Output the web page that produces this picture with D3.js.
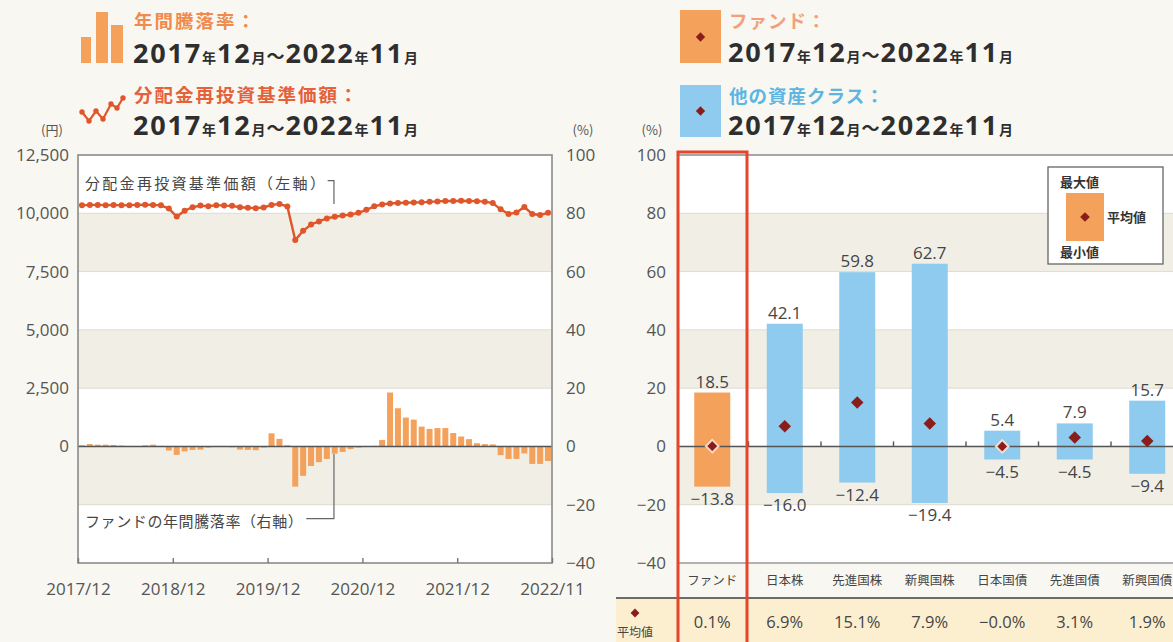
<!DOCTYPE html>
<html>
<head>
<meta charset="utf-8">
<script src="https://cdn.jsdelivr.net/npm/d3@7"></script>
<style>
  body { margin: 0; background: #f8f7f1; }
  svg { display: block; font-family: "Noto Sans CJK JP", "Noto Sans", sans-serif; }
</style>
</head>
<body>
<svg id="chart" width="1173" height="642"></svg>
<script>
// ---- data ----
const timeTicks = ['2017/12', '2018/12', '2019/12', '2020/12', '2021/12', '2022/11'];
const timeTickIndex = [0, 12, 24, 36, 48, 60];

// 分配金再投資基準価額 (円), 2017/12 - 2022/11 monthly
const navValues = [
  10340, 10360, 10360, 10350, 10360, 10340, 10350, 10360, 10370, 10360, 10340, 10200,
  9860, 10110, 10260, 10330, 10300, 10350, 10330, 10320, 10260, 10240, 10220, 10250,
  10360, 10400, 10290, 8850, 9250, 9520, 9650, 9780, 9850, 9900, 9950, 10020,
  10150, 10300, 10380, 10420, 10440, 10450, 10460, 10470, 10490, 10510, 10530, 10530,
  10540, 10530, 10520, 10500, 10440, 10170, 9970, 10030, 10270, 9970, 9930, 10020
];

// ファンドの年間騰落率 (%)
const returnValues = [
  0.4, 0.8, 0.6, 0.6, 0.5, 0.3, 0.1, -0.1, 0.4, 0.6, 0.2, -1.4,
  -2.9, -1.7, -1.2, -1.1, -0.4, -0.2, 0.1, -0.3, -1.1, -1.2, -1.3, -0.4,
  4.5, 2.6, 0.4, -13.8, -10.1, -6.7, -5.4, -4.3, -2.5, -1.9, -0.9, -0.4,
  -0.2, 0.2, 2.2, 18.5, 13.1, 9.9, 9.2, 6.8, 6.0, 6.3, 6.3, 4.6,
  3.4, 2.5, 1.1, 0.8, 0.7, -3.0, -4.3, -4.3, -2.4, -6.0, -6.0, -5.0
];

const yenTicks = [12500, 10000, 7500, 5000, 2500, 0];
const pctTicks = [100, 80, 60, 40, 20, 0, -20, -40];
const shadedBands = [[60, 80], [20, 40], [-20, 0]];

const categories = ['ファンド', '日本株', '先進国株', '新興国株', '日本国債', '先進国債', '新興国債'];
const maxValues = [18.5, 42.1, 59.8, 62.7, 5.4, 7.9, 15.7];
const minValues = [-13.8, -16.0, -12.4, -19.4, -4.5, -4.5, -9.4];
const meanValues = [0.1, 6.9, 15.1, 7.9, -0.0, 3.1, 1.9];
const meanLabels = ['0.1%', '6.9%', '15.1%', '7.9%', '−0.0%', '3.1%', '1.9%'];

// ---- colours ----
const ORANGE = '#f4a15c';
const BLUE = '#8ecbee';
const LINE = '#e0562b';
const DIAMOND = '#8b1c1c';
const SHADE = '#f1efe5';
const TEXT = '#454545';
const NUM_FONT = '"Open Sans", sans-serif';

const svg = d3.select('#chart');

// ================= left chart =================
const L = { left: 78, right: 552, top: 155, bottom: 563 };
const x = d3.scaleLinear().domain([0, 60]).range([L.left, L.right]);
const yPctL = d3.scaleLinear().domain([-40, 100]).range([L.bottom, L.top]);
const yYen = d3.scaleLinear().domain([-5000, 12500]).range([L.bottom, L.top]);

const left = svg.append('g');

left.append('rect')
  .attr('x', L.left).attr('y', L.top)
  .attr('width', L.right - L.left).attr('height', L.bottom - L.top)
  .attr('fill', '#fff');

left.selectAll('rect.band')
  .data(shadedBands)
  .join('rect')
  .attr('class', 'band')
  .attr('x', L.left)
  .attr('y', d => yPctL(d[1]))
  .attr('width', L.right - L.left)
  .attr('height', d => yPctL(d[0]) - yPctL(d[1]))
  .attr('fill', SHADE);

left.selectAll('line.grid')
  .data(pctTicks.slice(1, -1))
  .join('line')
  .attr('class', 'grid')
  .attr('x1', L.left).attr('x2', L.right)
  .attr('y1', d => yPctL(d)).attr('y2', d => yPctL(d))
  .attr('stroke', '#dedbd0');

// bars (right axis)
const barW = 6;
left.selectAll('rect.bar')
  .data(returnValues)
  .join('rect')
  .attr('class', 'bar')
  .attr('x', (d, i) => x(i + 0.5) - barW / 2)
  .attr('y', d => yPctL(Math.max(0, d)))
  .attr('width', barW)
  .attr('height', d => Math.abs(yPctL(d) - yPctL(0)))
  .attr('fill', ORANGE);

// zero line
left.append('line')
  .attr('x1', L.left).attr('x2', L.right)
  .attr('y1', yPctL(0)).attr('y2', yPctL(0))
  .attr('stroke', '#555').attr('stroke-width', 1.4);

// annotation leader lines
left.append('path')
  .attr('d', `M${x(31.6)},${yYen(11400)} H${x(32.4)} V${yYen(10400)}`)
  .attr('fill', 'none').attr('stroke', '#666').attr('stroke-width', 1.2);
left.append('path')
  .attr('d', `M${x(28.9)},${yPctL(-24.8)} H${x(32.4)} V${yPctL(-2.6)}`)
  .attr('fill', 'none').attr('stroke', '#666').attr('stroke-width', 1.2);

left.append('text')
  .attr('x', 85).attr('y', 189)
  .attr('font-size', 15).attr('letter-spacing', 2.3).attr('fill', TEXT)
  .text('分配金再投資基準価額（左軸）');
left.append('text')
  .attr('x', 85).attr('y', 527)
  .attr('font-size', 15).attr('letter-spacing', 0.6).attr('fill', TEXT)
  .text('ファンドの年間騰落率（右軸）');

// NAV line
const navLine = d3.line()
  .x((d, i) => x(i + 0.5))
  .y(d => yYen(d));

left.append('path')
  .datum(navValues)
  .attr('d', navLine)
  .attr('fill', 'none')
  .attr('stroke', LINE)
  .attr('stroke-width', 2.4);

left.selectAll('circle.pt')
  .data(navValues)
  .join('circle')
  .attr('class', 'pt')
  .attr('cx', (d, i) => x(i + 0.5))
  .attr('cy', d => yYen(d))
  .attr('r', 3)
  .attr('fill', LINE);

// frame
left.append('rect')
  .attr('x', L.left).attr('y', L.top)
  .attr('width', L.right - L.left).attr('height', L.bottom - L.top)
  .attr('fill', 'none').attr('stroke', '#8a8a8a').attr('stroke-width', 1.6);

// axes
const yenAxis = d3.axisLeft(yYen)
  .tickValues(yenTicks)
  .tickFormat(d3.format(','))
  .tickSize(0).tickPadding(9);
left.append('g')
  .attr('transform', `translate(${L.left},0)`)
  .call(yenAxis)
  .call(g => g.select('.domain').remove())
  .selectAll('text')
  .attr('font-size', 17).attr('fill', '#555').attr('font-family', NUM_FONT);

const pctAxisL = d3.axisRight(yPctL)
  .tickValues(pctTicks)
  .tickFormat(d => d < 0 ? '−' + Math.abs(d) : d)
  .tickSize(0).tickPadding(14);
left.append('g')
  .attr('transform', `translate(${L.right},0)`)
  .call(pctAxisL)
  .call(g => g.select('.domain').remove())
  .selectAll('text')
  .attr('font-size', 17).attr('fill', '#555').attr('font-family', NUM_FONT);

const timeAxis = d3.axisBottom(x)
  .tickValues(timeTickIndex)
  .tickFormat((d, i) => timeTicks[i])
  .tickSize(-5).tickPadding(20);
left.append('g')
  .attr('transform', `translate(0,${L.bottom})`)
  .call(timeAxis)
  .call(g => g.select('.domain').remove())
  .call(g => g.selectAll('line').attr('stroke', '#777').attr('stroke-width', 1.4))
  .selectAll('text')
  .attr('font-size', 17).attr('fill', '#555').attr('font-family', NUM_FONT);

left.append('text').attr('x', 52).attr('y', 135).attr('text-anchor', 'middle')
  .attr('font-size', 13).attr('fill', '#555').text('(円)');
left.append('text').attr('x', 583).attr('y', 135).attr('text-anchor', 'middle')
  .attr('font-size', 13).attr('fill', '#555').text('(%)');

// ================= right chart =================
const R = { left: 678, right: 1173, top: 155, bottom: 563 };
const xb = d3.scaleBand().domain(categories).range([676, 676 + 7 * 72.5]);
const yPctR = d3.scaleLinear().domain([-40, 100]).range([R.bottom, R.top]);
const right = svg.append('g');

right.append('rect')
  .attr('x', R.left).attr('y', R.top)
  .attr('width', R.right - R.left).attr('height', R.bottom - R.top)
  .attr('fill', '#fff');

right.selectAll('rect.band')
  .data(shadedBands)
  .join('rect')
  .attr('class', 'band')
  .attr('x', R.left)
  .attr('y', d => yPctR(d[1]))
  .attr('width', R.right - R.left)
  .attr('height', d => yPctR(d[0]) - yPctR(d[1]))
  .attr('fill', SHADE);

right.selectAll('line.grid')
  .data(pctTicks.slice(1, -1))
  .join('line')
  .attr('class', 'grid')
  .attr('x1', R.left).attr('x2', R.right)
  .attr('y1', d => yPctR(d)).attr('y2', d => yPctR(d))
  .attr('stroke', '#dedbd0');

right.append('line')
  .attr('x1', R.left).attr('x2', R.right)
  .attr('y1', R.top).attr('y2', R.top)
  .attr('stroke', '#8a8a8a').attr('stroke-width', 1.6);

const bw = 36;
const cx = d => xb(d) + xb.bandwidth() / 2;

right.selectAll('rect.range')
  .data(categories)
  .join('rect')
  .attr('class', 'range')
  .attr('x', d => cx(d) - bw / 2)
  .attr('y', (d, i) => yPctR(maxValues[i]))
  .attr('width', bw)
  .attr('height', (d, i) => yPctR(minValues[i]) - yPctR(maxValues[i]))
  .attr('fill', (d, i) => i === 0 ? ORANGE : BLUE);

// zero line and ticks
right.append('line')
  .attr('x1', R.left).attr('x2', R.right)
  .attr('y1', yPctR(0)).attr('y2', yPctR(0))
  .attr('stroke', '#555').attr('stroke-width', 1.4);
right.selectAll('line.tick')
  .data(categories.slice(1))
  .join('line')
  .attr('class', 'tick')
  .attr('x1', d => xb(d)).attr('x2', d => xb(d))
  .attr('y1', yPctR(0)).attr('y2', yPctR(0) - 5)
  .attr('stroke', '#555').attr('stroke-width', 1.4);

const diamond = d3.symbol().type(d3.symbolDiamond2).size(100);
right.selectAll('path.mean')
  .data(categories)
  .join('path')
  .attr('class', 'mean')
  .attr('d', diamond)
  .attr('transform', (d, i) => `translate(${cx(d)},${yPctR(meanValues[i])})`)
  .attr('fill', DIAMOND)
  .attr('stroke', (d, i) => Math.abs(meanValues[i]) < 1 ? 'rgba(255,230,215,0.9)' : 'none')
  .attr('stroke-width', 2);

right.selectAll('text.max')
  .data(categories)
  .join('text')
  .attr('class', 'max')
  .attr('x', d => cx(d))
  .attr('y', (d, i) => yPctR(maxValues[i]) - 5)
  .attr('text-anchor', 'middle')
  .attr('font-size', 17).attr('fill', TEXT).attr('font-family', NUM_FONT)
  .text((d, i) => maxValues[i].toFixed(1));

right.selectAll('text.min')
  .data(categories)
  .join('text')
  .attr('class', 'min')
  .attr('x', d => cx(d))
  .attr('y', (d, i) => yPctR(minValues[i]) + 18)
  .attr('text-anchor', 'middle')
  .attr('font-size', 17).attr('fill', TEXT).attr('font-family', NUM_FONT)
  .text((d, i) => '−' + Math.abs(minValues[i]).toFixed(1));

const pctAxisR = d3.axisLeft(yPctR)
  .tickValues(pctTicks)
  .tickFormat(d => d < 0 ? '−' + Math.abs(d) : d)
  .tickSize(0).tickPadding(12);
right.append('g')
  .attr('transform', `translate(${R.left},0)`)
  .call(pctAxisR)
  .call(g => g.select('.domain').remove())
  .selectAll('text')
  .attr('font-size', 17).attr('fill', '#555').attr('font-family', NUM_FONT);

right.append('text').attr('x', 652).attr('y', 135).attr('text-anchor', 'middle')
  .attr('font-size', 13).attr('fill', '#555').text('(%)');

// table rows
right.append('line')
  .attr('x1', R.left).attr('x2', R.right)
  .attr('y1', R.bottom).attr('y2', R.bottom)
  .attr('stroke', '#999').attr('stroke-width', 1.4);

right.selectAll('text.cat')
  .data(categories)
  .join('text')
  .attr('class', 'cat')
  .attr('x', d => cx(d))
  .attr('y', 585)
  .attr('text-anchor', 'middle')
  .attr('font-size', 12.5).attr('fill', TEXT)
  .text(d => d);

right.append('rect')
  .attr('x', 616).attr('y', 598)
  .attr('width', R.right - 616).attr('height', 44)
  .attr('fill', '#fcefd0');
right.append('line')
  .attr('x1', 616).attr('x2', R.right)
  .attr('y1', 598).attr('y2', 598)
  .attr('stroke', '#6b6b6b').attr('stroke-width', 1.8);

right.append('path')
  .attr('d', d3.symbol().type(d3.symbolDiamond2).size(50))
  .attr('transform', 'translate(635,613)')
  .attr('fill', DIAMOND);
right.append('text')
  .attr('x', 635).attr('y', 637)
  .attr('text-anchor', 'middle')
  .attr('font-size', 12).attr('fill', TEXT)
  .text('平均値');

right.selectAll('text.meanLabel')
  .data(categories)
  .join('text')
  .attr('class', 'meanLabel')
  .attr('x', d => cx(d))
  .attr('y', 628)
  .attr('text-anchor', 'middle')
  .attr('font-size', 16.5).attr('fill', TEXT).attr('font-family', NUM_FONT)
  .text((d, i) => meanLabels[i]);

// fund highlight frame
right.append('rect')
  .attr('x', xb(categories[0]) + 2)
  .attr('y', 152)
  .attr('width', 69)
  .attr('height', 500)
  .attr('fill', 'none')
  .attr('stroke', '#e6452b')
  .attr('stroke-width', 3);

// legend box
const lg = right.append('g');
lg.append('rect')
  .attr('x', 1048).attr('y', 167).attr('width', 115).attr('height', 97)
  .attr('fill', '#fff').attr('stroke', '#666').attr('stroke-width', 1.3);
lg.append('rect')
  .attr('x', 1066).attr('y', 193).attr('width', 38).attr('height', 48)
  .attr('fill', ORANGE);
lg.append('path')
  .attr('d', d3.symbol().type(d3.symbolDiamond2).size(60))
  .attr('transform', 'translate(1085,217)')
  .attr('fill', DIAMOND);
lg.append('text').attr('x', 1060).attr('y', 187).attr('font-size', 13)
  .attr('font-weight', 700).attr('fill', '#333').text('最大値');
lg.append('text').attr('x', 1107).attr('y', 222).attr('font-size', 13)
  .attr('font-weight', 700).attr('fill', '#333').text('平均値');
lg.append('text').attr('x', 1060).attr('y', 257).attr('font-size', 13)
  .attr('font-weight', 700).attr('fill', '#333').text('最小値');

// ================= headers =================
function dateLine(g, xPos, yPos) {
  const t = g.append('text')
    .attr('x', xPos).attr('y', yPos)
    .attr('fill', '#2e2e2e').attr('font-weight', 700);
  const parts = [['2017', 27], ['年', 14], ['12', 27], ['月', 14], ['～', 18],
    ['2022', 27], ['年', 14], ['11', 27], ['月', 14]];
  parts.forEach(p => {
    t.append('tspan').attr('font-size', p[1])
      .attr('font-family', p[1] > 20 ? NUM_FONT : null)
      .attr('letter-spacing', p[1] > 20 ? 1.8 : 1)
      .text(p[0]);
  });
}

const head = svg.append('g');
// bar icon
[[81, 37, 10, 26], [96, 12, 12, 51], [111, 25, 12, 38]].forEach(r => {
  head.append('rect').attr('x', r[0]).attr('y', r[1]).attr('width', r[2]).attr('height', r[3]).attr('fill', ORANGE);
});
// line icon
const iconPts = [[82, 112], [89, 121], [96, 111], [103, 119], [111, 104], [117, 108], [123, 98]];
head.append('path').attr('d', d3.line()(iconPts)).attr('fill', 'none').attr('stroke', LINE).attr('stroke-width', 2.2);
iconPts.forEach(p => head.append('circle').attr('cx', p[0]).attr('cy', p[1]).attr('r', 2.7).attr('fill', LINE));

head.append('text').attr('x', 134).attr('y', 28).attr('font-size', 18.5).attr('font-weight', 700)
  .attr('letter-spacing', 2).attr('fill', '#f08a4e').text('年間騰落率：');
dateLine(head, 133, 63);
head.append('text').attr('x', 134).attr('y', 102).attr('font-size', 18.5).attr('font-weight', 700)
  .attr('letter-spacing', 2).attr('fill', '#e5613a').text('分配金再投資基準価額：');
dateLine(head, 133, 135);

head.append('rect').attr('x', 680).attr('y', 10).attr('width', 41).attr('height', 53).attr('fill', ORANGE);
head.append('path').attr('d', d3.symbol().type(d3.symbolDiamond2).size(55))
  .attr('transform', 'translate(700.5,37)').attr('fill', DIAMOND);
head.append('rect').attr('x', 680).attr('y', 85).attr('width', 41).attr('height', 52).attr('fill', BLUE);
head.append('path').attr('d', d3.symbol().type(d3.symbolDiamond2).size(55))
  .attr('transform', 'translate(700.5,111)').attr('fill', DIAMOND);

head.append('text').attr('x', 729).attr('y', 28).attr('font-size', 18.5).attr('font-weight', 700)
  .attr('letter-spacing', 1).attr('fill', '#f2a07a').text('ファンド：');
dateLine(head, 728, 62);
head.append('text').attr('x', 729).attr('y', 103).attr('font-size', 18.5).attr('font-weight', 700)
  .attr('letter-spacing', 1).attr('fill', '#5db5e2').text('他の資産クラス：');
dateLine(head, 728, 135);
</script>
</body>
</html>
